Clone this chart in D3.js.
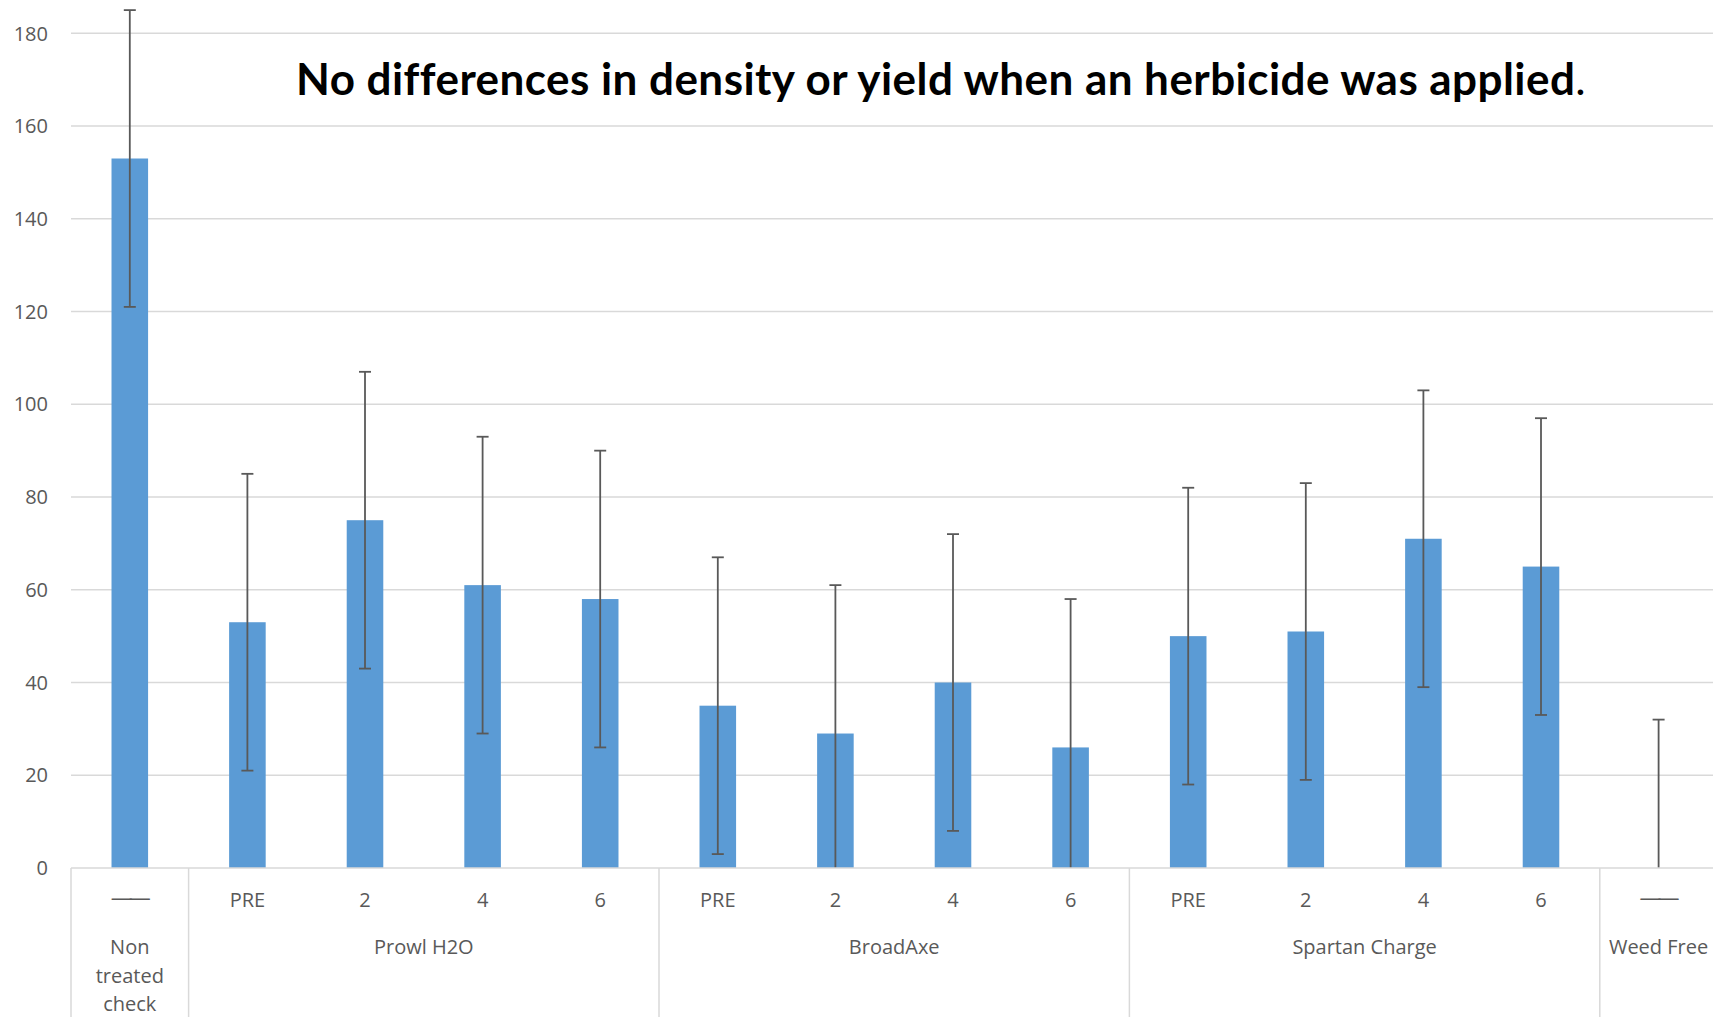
<!DOCTYPE html>
<html>
<head>
<meta charset="utf-8">
<script src="https://cdn.jsdelivr.net/npm/d3@7"></script>
<style>
  html, body { margin: 0; padding: 0; background: #fff; overflow: hidden; }
  svg { display: block; }
  text { font-family: 'Open Sans', 'Noto Sans', sans-serif; fill: #595959; }
</style>
</head>
<body>
<svg id="chart"></svg>
<script>
const titleText = 'No differences in density or yield when an herbicide was applied'

const groups = ['Non treated check', 'Prowl H2O', 'BroadAxe', 'Spartan Charge', 'Weed Free']
const subLabels = ['——', 'PRE', '2', '4', '6', 'PRE', '2', '4', '6', 'PRE', '2', '4', '6', '——']
const groupIndex = [0, 1, 1, 1, 1, 2, 2, 2, 2, 3, 3, 3, 3, 4]
const values = [153, 53, 75, 61, 58, 35, 29, 40, 26, 50, 51, 71, 65, 0]
const errors = [32, 32, 32, 32, 32, 32, 32, 32, 32, 32, 32, 32, 32, 32]
const yTicks = [0, 20, 40, 60, 80, 100, 120, 140, 160, 180]

const W = 1713, H = 1017
const left = 71, step = 117.6
const zeroY = 868, topY = 33.3

const svg = d3.select('#chart').attr('width', W).attr('height', H)

const xScale = d3
  .scaleBand()
  .domain(d3.range(values.length))
  .range([left, left + step * values.length])
  .paddingInner(0.689)
  .paddingOuter(0.689 / 2)

const yScale = d3.scaleLinear().domain([0, 180]).range([zeroY, topY])

// gridlines
svg
  .append('g')
  .selectAll('line')
  .data(yTicks.filter((d) => d > 0))
  .enter()
  .append('line')
  .attr('x1', left)
  .attr('x2', W)
  .attr('y1', (d) => yScale(d))
  .attr('y2', (d) => yScale(d))
  .attr('stroke', '#d9d9d9')
  .attr('stroke-width', 1.5)

// y labels
svg
  .append('g')
  .selectAll('text')
  .data(yTicks)
  .enter()
  .append('text')
  .attr('x', 48)
  .attr('y', (d) => yScale(d))
  .attr('dy', '0.36em')
  .attr('text-anchor', 'end')
  .style('font-size', '20px')
  .text((d) => d)

// bars
svg
  .append('g')
  .selectAll('rect')
  .data(values)
  .enter()
  .append('rect')
  .attr('x', (d, i) => xScale(i))
  .attr('width', xScale.bandwidth())
  .attr('y', (d) => yScale(d))
  .attr('height', (d) => zeroY - yScale(d))
  .attr('fill', '#5b9bd5')

// error bars, clipped at the axis
svg
  .append('clipPath')
  .attr('id', 'plotClip')
  .append('rect')
  .attr('x', 0)
  .attr('y', -50)
  .attr('width', W)
  .attr('height', zeroY + 50)

const errG = svg.append('g').attr('clip-path', 'url(#plotClip)')
const cx = (i) => xScale(i) + xScale.bandwidth() / 2

values.forEach((v, i) => {
  const hi = yScale(v + errors[i])
  const lo = yScale(v - errors[i])
  errG
    .append('line')
    .attr('x1', cx(i))
    .attr('x2', cx(i))
    .attr('y1', hi)
    .attr('y2', lo)
    .attr('stroke', '#595959')
    .attr('stroke-width', 1.8)
  ;[hi, lo].forEach((y) => {
    errG
      .append('line')
      .attr('x1', cx(i) - 6)
      .attr('x2', cx(i) + 6)
      .attr('y1', y)
      .attr('y2', y)
      .attr('stroke', '#595959')
      .attr('stroke-width', 1.8)
  })
})

// x axis line
svg
  .append('line')
  .attr('x1', left)
  .attr('x2', W)
  .attr('y1', zeroY)
  .attr('y2', zeroY)
  .attr('stroke', '#d9d9d9')
  .attr('stroke-width', 1.5)

// group separators
const bounds = [0]
groupIndex.forEach((g, i) => {
  if (i > 0 && g !== groupIndex[i - 1]) bounds.push(i)
})
bounds.push(values.length)

svg
  .append('g')
  .selectAll('line')
  .data(bounds)
  .enter()
  .append('line')
  .attr('x1', (d) => left + d * step)
  .attr('x2', (d) => left + d * step)
  .attr('y1', zeroY)
  .attr('y2', H)
  .attr('stroke', '#d9d9d9')
  .attr('stroke-width', 1.5)

// sub labels
const isDash = (d) => d === '——'
svg
  .append('g')
  .selectAll('text')
  .data(subLabels)
  .enter()
  .append('text')
  .attr('x', (d, i) => cx(i))
  .attr('y', (d) => (isDash(d) ? 897 : 900))
  .attr('dy', '0.36em')
  .attr('dx', (d) => (isDash(d) ? -1 : 0))
  .attr('text-anchor', 'middle')
  .style('font-size', (d) => (isDash(d) ? '22px' : '20px'))
  .style('letter-spacing', (d) => (isDash(d) ? '-4px' : null))
  .text((d) => d)

// group labels
const wrapped = { 'Non treated check': ['Non', 'treated', 'check'] }
groups.forEach((g, gi) => {
  const idx = groupIndex.map((d, i) => (d === gi ? i : -1)).filter((d) => d >= 0)
  const x0 = left + d3.min(idx) * step
  const x1 = left + (d3.max(idx) + 1) * step
  const lines = wrapped[g] || [g]
  const t = svg
    .append('text')
    .attr('x', (x0 + x1) / 2)
    .attr('y', 947)
    .attr('text-anchor', 'middle')
    .style('font-size', '20px')
  lines.forEach((ln, li) => {
    t.append('tspan')
      .attr('x', (x0 + x1) / 2)
      .attr('y', 947 + li * 28.3)
      .attr('dy', '0.36em')
      .text(ln)
  })
})

// title
const title = svg
  .append('text')
  .attr('x', 296)
  .attr('y', 95)
  .style('font-family', "Lato, 'Open Sans', sans-serif")
  .style('font-weight', 'bold')
  .style('font-size', '44px')
  .style('letter-spacing', '0.45px')
  .style('fill', '#000')
title.append('tspan').text(titleText)
title.append('tspan').style('font-weight', 'normal').text('.')
</script>
</body>
</html>
